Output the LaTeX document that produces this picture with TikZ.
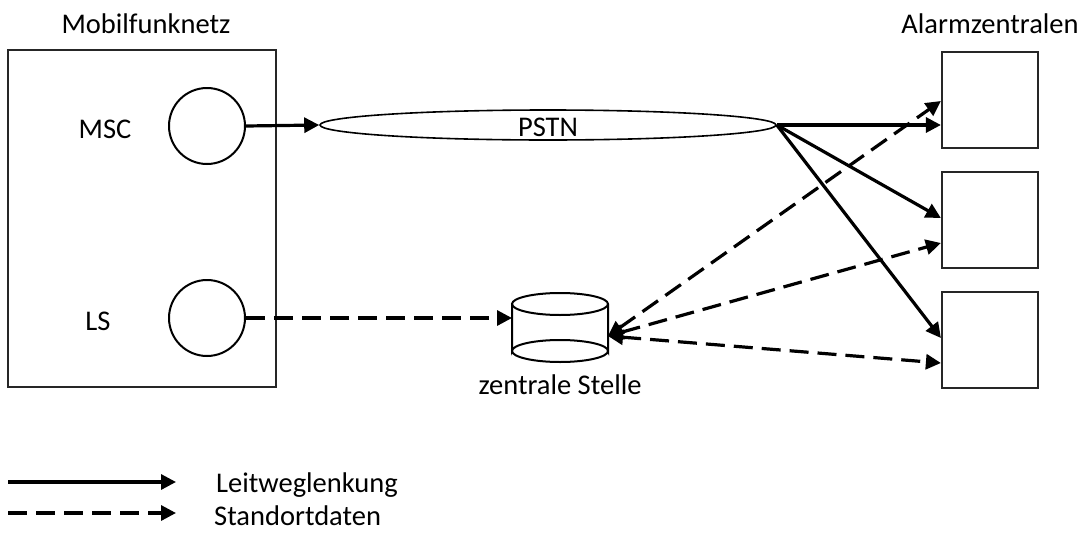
\documentclass[tikz,border=0pt]{standalone}
\usepackage{fontspec}
\setmainfont{Carlito}
\usetikzlibrary{arrows.meta,shapes.geometric}
\begin{document}
\begin{tikzpicture}[x=1pt,y=-1pt,
  lbl/.style={font=\fontsize{28.5}{34}\selectfont, inner sep=0pt},
  frame/.style={draw=black!85, line width=2.2pt},
  circ/.style={draw, line width=2pt, circle, minimum size=76pt, inner sep=0pt},
  alarm/.style={draw=black!85, line width=2.2pt, minimum width=96pt, minimum height=96pt, inner sep=0pt},
  tip/.style={-{Triangle[length=15pt,width=15pt]}},
  bitip/.style={{Triangle[length=15pt,width=15pt]}-{Triangle[length=15pt,width=15pt]}},
  route/.style={line width=3.2pt, tip},
  loc/.style={line width=3.2pt, dash pattern=on 19pt off 9pt}
]
\useasboundingbox (0,0) rectangle (1084,541);
% Mobilfunknetz
\node[frame, minimum width=268pt, minimum height=337pt, inner sep=0pt] (mf) at (142,218.5) {};
\node[lbl] (mflbl) at (146,24) {Mobilfunknetz};
\node[circ] (msc) at (207,126) {};
\node[lbl] (msclbl) at (105,129) {MSC};
\node[circ] (ls) at (207,318) {};
\node[lbl] (lslbl) at (98,321) {LS};
% PSTN
\node[draw, line width=1.6pt, ellipse, minimum width=456pt, minimum height=30pt, inner sep=0pt] (pstn) at (548,125) {};
\node[lbl] (pstnlbl) at (548,127) {PSTN};
% cylinder
\coordinate (cylL) at (512,318);
\coordinate (cylR) at (608,336);
\draw[line width=2pt] (512,304) -- (512,351) arc[start angle=180,end angle=360,x radius=48,y radius=11] -- (608,304);
\draw[line width=2pt] (560,304) ellipse[x radius=48,y radius=11];
\draw[line width=2pt] (512,351) arc[start angle=180,end angle=0,x radius=48,y radius=11];
\node[lbl] (zs) at (560,385) {zentrale Stelle};
% Alarmzentralen
\node[lbl] (azlbl) at (990,24) {Alarmzentralen};
\node[alarm] (a1) at (990,100) {};
\node[alarm] (a2) at (990,220) {};
\node[alarm] (a3) at (990,340) {};
% connectors
\draw[route] (msc.east) -- (pstn.west);
\draw[route] (pstn.east) -- ([yshift=-25pt]a1.west);
\draw[route] (pstn.east) -- ([yshift=2pt]a2.west);
\draw[route] (pstn.east) -- ([yshift=2pt]a3.west);
\draw[loc, tip] (ls.east) -- (cylL);
\draw[loc, bitip] (cylR) -- ([yshift=-1pt]a1.west);
\draw[loc, bitip] (cylR) -- ([yshift=-23pt]a2.west);
\draw[loc, bitip] (cylR) -- ([yshift=-23pt]a3.west);
% legend
\coordinate (l1a) at (8,482);
\coordinate (l1b) at (176,482);
\coordinate (l2a) at (8,513);
\coordinate (l2b) at (176,513);
\draw[route] (l1a) -- (l1b);
\draw[loc, tip] (l2a) -- (l2b);
\node[lbl, anchor=west] (leg1) at (216,485) {Leitweglenkung};
\node[lbl, anchor=west] (leg2) at (214,516) {Standortdaten};
\end{tikzpicture}
\end{document}
